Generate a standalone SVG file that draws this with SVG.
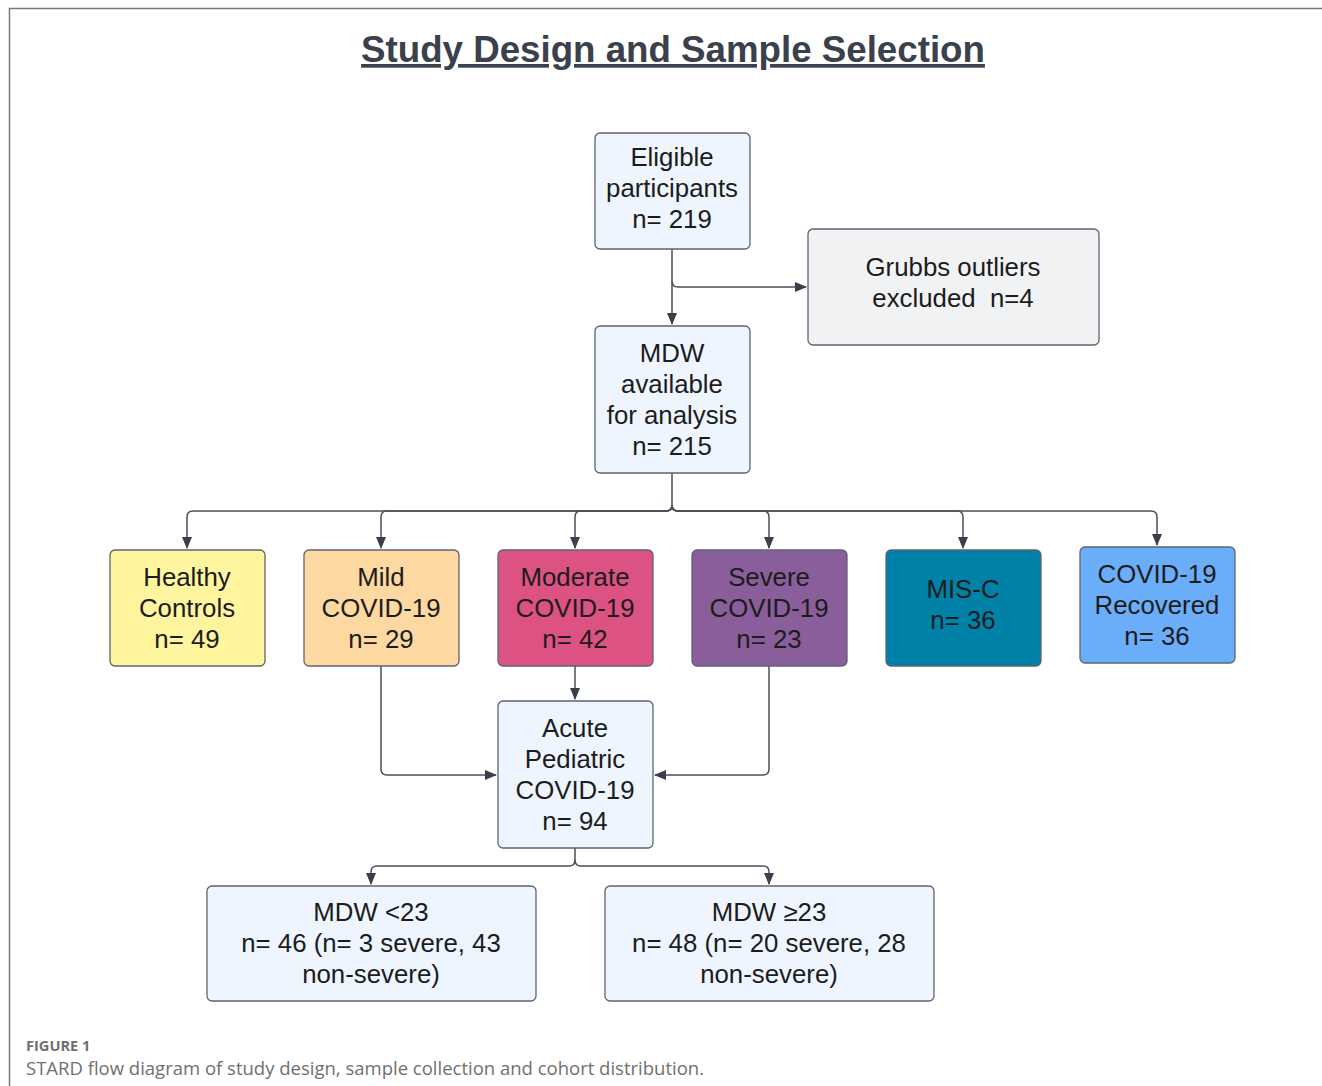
<svg xmlns="http://www.w3.org/2000/svg" width="1322" height="1086" viewBox="0 0 1322 1086">
<style>
.box{stroke:#5f6470;stroke-width:1.3}
.t{font-family:"Liberation Sans",Arial,sans-serif;font-size:25.8px;fill:#1c1c1c;text-anchor:middle}
.c{fill:none;stroke:#4a4f5a;stroke-width:1.5}
</style>
<defs>
<marker id="ah" markerWidth="12" markerHeight="12" viewBox="0 0 12 12" refX="11" refY="6" orient="auto" markerUnits="userSpaceOnUse">
<path d="M0,1 L12,6 L0,11 Z" fill="#3a3f4a"/>
</marker>
</defs>
<rect x="0" y="0" width="1322" height="1086" fill="#ffffff"/>
<path d="M9.5,1086 V8.5 H1322" fill="none" stroke="#7a7a7a" stroke-width="1.5"/>
<text x="673" y="62" font-family="Liberation Sans,Arial,sans-serif" font-size="36.7" font-weight="bold" fill="#3a404c" text-anchor="middle" text-decoration="underline">Study Design and Sample Selection</text>

<g id="connectors">
<path class="c" d="M672,249 V324" marker-end="url(#ah)"/>
<path class="c" d="M672,281 Q672,287 678,287 H806" marker-end="url(#ah)"/>
<path class="c" d="M672,473 V505 Q672,511 666,511 H193 Q187,511 187,517 V548" marker-end="url(#ah)"/>
<path class="c" d="M672,505 Q672,511 666,511 H387 Q381,511 381,517 V548" marker-end="url(#ah)"/>
<path class="c" d="M672,505 Q672,511 666,511 H581 Q575,511 575,517 V548" marker-end="url(#ah)"/>
<path class="c" d="M672,505 Q672,511 678,511 H763 Q769,511 769,517 V548" marker-end="url(#ah)"/>
<path class="c" d="M672,505 Q672,511 678,511 H957 Q963,511 963,517 V548" marker-end="url(#ah)"/>
<path class="c" d="M672,505 Q672,511 678,511 H1151 Q1157,511 1157,517 V545" marker-end="url(#ah)"/>
<path class="c" d="M575,666 V699" marker-end="url(#ah)"/>
<path class="c" d="M381,666 V769 Q381,775 387,775 H496" marker-end="url(#ah)"/>
<path class="c" d="M769,666 V769 Q769,775 763,775 H655" marker-end="url(#ah)"/>
<path class="c" d="M575,848 V860 Q575,866 569,866 H377 Q371,866 371,872 V884" marker-end="url(#ah)"/>
<path class="c" d="M575,860 Q575,866 581,866 H763 Q769,866 769,872 V884" marker-end="url(#ah)"/>
</g>

<g id="eligible">
<rect class="box" x="595" y="133" width="155" height="116" rx="5" fill="#eef5fe"/>
<text class="t" x="672" y="166">Eligible</text>
<text class="t" x="672" y="197">participants</text>
<text class="t" x="672" y="228">n= 219</text>
</g>
<g id="grubbs">
<rect class="box" x="808" y="229" width="291" height="116" rx="5" fill="#f1f2f4"/>
<text class="t" x="953" y="276">Grubbs outliers</text>
<text class="t" x="953" y="307" style="white-space:pre">excluded  n=4</text>
</g>
<g id="mdw">
<rect class="box" x="595" y="326" width="155" height="147" rx="5" fill="#eef5fe"/>
<text class="t" x="672" y="362">MDW</text>
<text class="t" x="672" y="393">available</text>
<text class="t" x="672" y="424">for analysis</text>
<text class="t" x="672" y="455">n= 215</text>
</g>
<g id="healthy">
<rect class="box" x="110" y="550" width="155" height="116" rx="5" fill="#fef59e"/>
<text class="t" x="187" y="586">Healthy</text>
<text class="t" x="187" y="617">Controls</text>
<text class="t" x="187" y="648">n= 49</text>
</g>
<g id="mild">
<rect class="box" x="304" y="550" width="155" height="116" rx="5" fill="#fdd9a1"/>
<text class="t" x="381" y="586">Mild</text>
<text class="t" x="381" y="617">COVID-19</text>
<text class="t" x="381" y="648">n= 29</text>
</g>
<g id="moderate">
<rect class="box" x="498" y="550" width="155" height="116" rx="5" fill="#dc5283"/>
<text class="t" x="575" y="586">Moderate</text>
<text class="t" x="575" y="617">COVID-19</text>
<text class="t" x="575" y="648">n= 42</text>
</g>
<g id="severe">
<rect class="box" x="692" y="550" width="155" height="116" rx="5" fill="#895e9a"/>
<text class="t" x="769" y="586">Severe</text>
<text class="t" x="769" y="617">COVID-19</text>
<text class="t" x="769" y="648">n= 23</text>
</g>
<g id="misc">
<rect class="box" x="886" y="550" width="155" height="116" rx="5" fill="#0081a8"/>
<text class="t" x="963" y="598">MIS-C</text>
<text class="t" x="963" y="629">n= 36</text>
</g>
<g id="recovered">
<rect class="box" x="1080" y="547" width="155" height="116" rx="5" fill="#6aaefa"/>
<text class="t" x="1157" y="583">COVID-19</text>
<text class="t" x="1157" y="614">Recovered</text>
<text class="t" x="1157" y="645">n= 36</text>
</g>
<g id="acute">
<rect class="box" x="498" y="701" width="155" height="147" rx="5" fill="#eef5fe"/>
<text class="t" x="575" y="737">Acute</text>
<text class="t" x="575" y="768">Pediatric</text>
<text class="t" x="575" y="799">COVID-19</text>
<text class="t" x="575" y="830">n= 94</text>
</g>
<g id="mdwlow">
<rect class="box" x="207" y="886" width="329" height="115" rx="5" fill="#eef5fe"/>
<text class="t" x="371" y="921">MDW &lt;23</text>
<text class="t" x="371" y="952">n= 46 (n= 3 severe, 43</text>
<text class="t" x="371" y="983">non-severe)</text>
</g>
<g id="mdwhigh">
<rect class="box" x="605" y="886" width="329" height="115" rx="5" fill="#eef5fe"/>
<text class="t" x="769" y="921">MDW ≥23</text>
<text class="t" x="769" y="952">n= 48 (n= 20 severe, 28</text>
<text class="t" x="769" y="983">non-severe)</text>
</g>

<text x="26" y="1051" font-family="Open Sans,Liberation Sans,sans-serif" font-size="14.6" font-weight="bold" fill="#707070">FIGURE 1</text>
<text x="26" y="1075" font-family="Open Sans,Liberation Sans,sans-serif" font-size="18.5" fill="#707070">STARD flow diagram of study design, sample collection and cohort distribution.</text>
</svg>
